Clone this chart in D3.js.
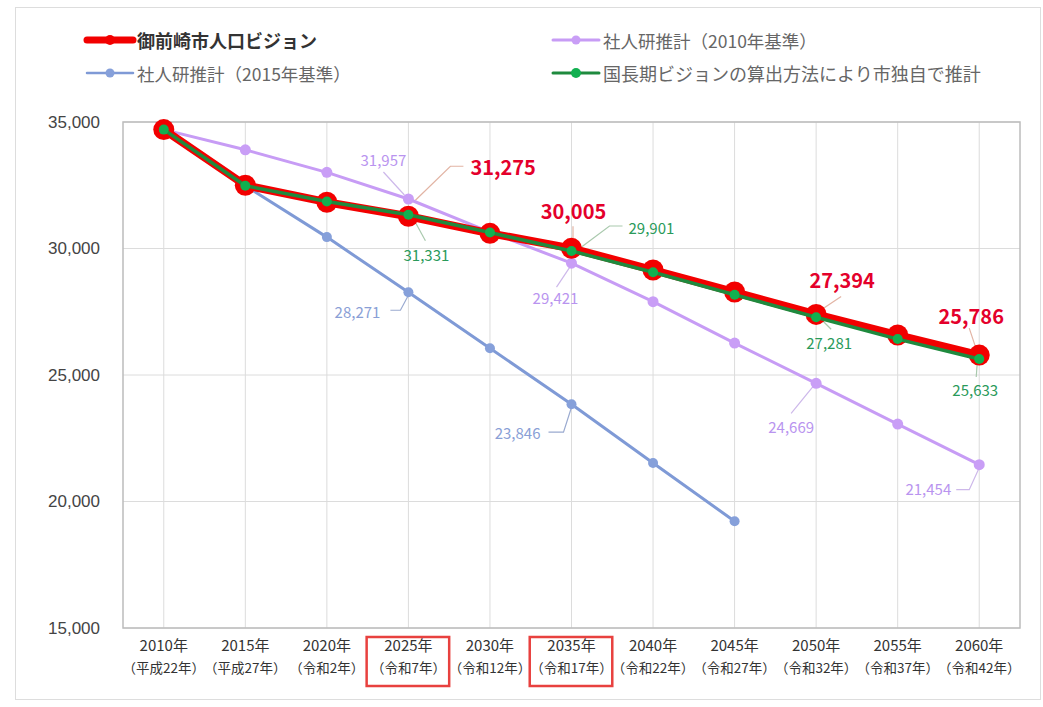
<!DOCTYPE html>
<html>
<head>
<meta charset="utf-8">
<script src="https://cdn.jsdelivr.net/npm/d3@7"></script>
<style>
  html, body { margin: 0; padding: 0; background: #fff; }
  svg { display: block; }
</style>
</head>
<body>
<svg id="chart" width="1043" height="707"></svg>
<script>
// ---- data ----
const years = ["2010", "2015", "2020", "2025", "2030", "2035", "2040", "2045", "2050", "2055", "2060"];
const yearLabels = ["2010年", "2015年", "2020年", "2025年", "2030年", "2035年", "2040年", "2045年", "2050年", "2055年", "2060年"];
const eraLabels = ["（平成22年）", "（平成27年）", "（令和2年）", "（令和7年）", "（令和12年）", "（令和17年）", "（令和22年）", "（令和27年）", "（令和32年）", "（令和37年）", "（令和42年）"];
const highlightedYears = ["2025", "2035"];

const yTicks = [15000, 20000, 25000, 30000, 35000];

// 御前崎市人口ビジョン
const visionValues = [34700, 32500, 31830, 31275, 30600, 30005, 29150, 28280, 27394, 26580, 25786];
// 国長期ビジョンの算出方法により市独自で推計
const cityEstimateValues = [34700, 32480, 31860, 31331, 30630, 29901, 29060, 28170, 27281, 26420, 25633];
// 社人研推計（2010年基準）
const ipss2010Values = [34700, 33900, 33010, 31957, 30650, 29421, 27900, 26260, 24669, 23060, 21454];
// 社人研推計（2015年基準）
const ipss2015Values = [null, 32480, 30450, 28271, 26060, 23846, 21520, 19220, null, null, null];

const seriesNames = ["御前崎市人口ビジョン", "社人研推計（2010年基準）", "社人研推計（2015年基準）", "国長期ビジョンの算出方法により市独自で推計"];

// value labels shown on the chart: [series key, year]
const labelledPoints = [
  ["vision", "2025"], ["vision", "2035"], ["vision", "2050"], ["vision", "2060"],
  ["city", "2025"], ["city", "2035"], ["city", "2050"], ["city", "2060"],
  ["ipss2010", "2025"], ["ipss2010", "2035"], ["ipss2010", "2050"], ["ipss2010", "2060"],
  ["ipss2015", "2025"], ["ipss2015", "2035"]
];

// ---- styling & layout ----
const style = {
  vision:   { line: "#f20000", width: 8,   marker: "#f20000", r: 10.5, label: "#e4002b", leader: "#e2b4a4", size: 20, weight: 700 },
  city:     { line: "#1f8a3e", width: 3.5, marker: "#12b050", r: 5,    label: "#2a9a5a", leader: "#a9c9ad", size: 15, weight: 400 },
  ipss2010: { line: "#c79cf5", width: 3,   marker: "#c99ef6", r: 5.5,  label: "#b994ef", leader: "#cdb8ea", size: 15, weight: 400 },
  ipss2015: { line: "#7f9ad6", width: 3,   marker: "#86a0da", r: 5,    label: "#8a9fd6", leader: "#9aaad0", size: 15, weight: 400 }
};

// label placement relative to its point: text anchor position, alignment and leader polyline
const labelLayout = {
  "vision-2025":   { dx: 62,  dy: -50, anchor: "start",  leader: [[7, -16], [42, -50], [55, -50]] },
  "vision-2035":   { dx: 2,   dy: -38, anchor: "middle", leader: [[1.5, -22], [1.5, -10]] },
  "vision-2050":   { dx: 26,  dy: -35, anchor: "middle", leader: [[4, -4], [25, -18]] },
  "vision-2060":   { dx: -8,  dy: -40, anchor: "middle", leader: [[-10, -27], [-3, -6]] },
  "city-2025":     { dx: 18,  dy: 40,  anchor: "middle", leader: [[5, 4], [17, 26]] },
  "city-2035":     { dx: 57,  dy: -24, anchor: "start",  leader: [[10, -4], [38, -25], [51, -25]] },
  "city-2050":     { dx: 13,  dy: 25,  anchor: "middle", leader: [[7, 4], [15, 12]] },
  "city-2060":     { dx: -4,  dy: 31,  anchor: "middle", leader: [[-2, 4], [-3, 18]] },
  "ipss2010-2025": { dx: -25, dy: -39, anchor: "middle", leader: [[-25, -27], [-4, -4]] },
  "ipss2010-2035": { dx: -16, dy: 34,  anchor: "middle", leader: [[-1, 3], [-15, 24]] },
  "ipss2010-2050": { dx: -25, dy: 43,  anchor: "middle", leader: [[-25, 30], [-3, 3]] },
  "ipss2010-2060": { dx: -28, dy: 24,  anchor: "end",    leader: [[-23, 25], [-10, 25], [0, 3]] },
  "ipss2015-2025": { dx: -28, dy: 19,  anchor: "end",    leader: [[-18, 18], [-8, 18], [0, 3]] },
  "ipss2015-2035": { dx: -31, dy: 28,  anchor: "end",    leader: [[-23, 28], [-8, 28], [0, 3]] }
};

const plot = { left: 123, right: 1020, top: 122, bottom: 628 };
const cjk = "'Noto Sans CJK JP', 'Noto Sans', sans-serif";

const svg = d3.select("#chart");

// outer frame
svg.append("rect")
  .attr("x", 15.5).attr("y", 7.5).attr("width", 1025).attr("height", 692)
  .attr("fill", "#fff").attr("stroke", "#dddddd").attr("stroke-width", 1);

const x = d3.scaleBand().domain(years).range([plot.left, plot.right]).padding(0);
const cx = d => x(d) + x.bandwidth() / 2;
const y = d3.scaleLinear().domain([15000, 35000]).range([plot.bottom, plot.top]);

// grid lines
const grid = svg.append("g");
grid.selectAll("line.h").data(yTicks).join("line")
  .attr("x1", plot.left).attr("x2", plot.right)
  .attr("y1", d => y(d)).attr("y2", d => y(d))
  .attr("stroke", "#dcdcdc").attr("stroke-width", 1);
grid.selectAll("line.v").data(years).join("line")
  .attr("x1", d => cx(d)).attr("x2", d => cx(d))
  .attr("y1", plot.top).attr("y2", plot.bottom)
  .attr("stroke", "#dcdcdc").attr("stroke-width", 1);

// plot border
svg.append("rect")
  .attr("x", plot.left).attr("y", plot.top)
  .attr("width", plot.right - plot.left).attr("height", plot.bottom - plot.top)
  .attr("fill", "none").attr("stroke", "#bcbcbc").attr("stroke-width", 1.5);

// y axis labels
const yAxis = d3.axisLeft(y).tickValues(yTicks).tickFormat(d3.format(",")).tickSize(0).tickPadding(0);
const yg = svg.append("g").attr("transform", `translate(100,0)`).call(yAxis);
yg.select(".domain").remove();
yg.selectAll("text")
  .attr("font-family", "'Liberation Sans', Arial, sans-serif")
  .attr("font-size", 17).attr("fill", "#444");

// x axis labels (two lines)
const xAxis = d3.axisBottom(x).tickSize(0).tickFormat(() => "");
const xg = svg.append("g").attr("transform", `translate(0,${plot.bottom})`).call(xAxis);
xg.select(".domain").remove();
xg.selectAll(".tick text").remove();
xg.selectAll(".tick").append("text")
  .attr("y", 23).attr("text-anchor", "middle")
  .attr("font-family", cjk).attr("font-size", 15).attr("fill", "#333")
  .text((d, i) => yearLabels[i]);
xg.selectAll(".tick").append("text")
  .attr("y", 45).attr("text-anchor", "middle")
  .attr("font-family", cjk).attr("font-size", 13.5).attr("fill", "#333")
  .text((d, i) => eraLabels[i]);

// highlight boxes around selected years
svg.selectAll("rect.hl").data(highlightedYears).join("rect")
  .attr("x", d => x(d) - 1).attr("y", plot.bottom + 9)
  .attr("width", x.bandwidth() + 1).attr("height", 49)
  .attr("fill", "none").attr("stroke", "#e8413f").attr("stroke-width", 2.5);

// series
const seriesData = {
  vision: visionValues,
  city: cityEstimateValues,
  ipss2010: ipss2010Values,
  ipss2015: ipss2015Values
};
const drawOrder = ["ipss2015", "ipss2010", "vision", "city"];

const line = d3.line()
  .defined(d => d.v != null)
  .x(d => cx(d.year)).y(d => y(d.v));

// leader lines sit beneath the series
const leaders = svg.append("g");
const seriesG = svg.append("g");
const labelsG = svg.append("g");

drawOrder.forEach(key => {
  const s = style[key];
  const pts = years.map((yr, i) => ({ year: yr, v: seriesData[key][i] }));
  seriesG.append("path").datum(pts)
    .attr("d", line).attr("fill", "none")
    .attr("stroke", s.line).attr("stroke-width", s.width)
    .attr("stroke-linejoin", "round").attr("stroke-linecap", "round");
  seriesG.selectAll(null).data(pts.filter(p => p.v != null)).join("circle")
    .attr("cx", p => cx(p.year)).attr("cy", p => y(p.v))
    .attr("r", s.r).attr("fill", s.marker);
});

const fmt = d3.format(",");
labelledPoints.forEach(([key, yr]) => {
  const s = style[key];
  const v = seriesData[key][years.indexOf(yr)];
  const px = cx(yr), py = y(v);
  const L = labelLayout[`${key}-${yr}`];
  leaders.append("path")
    .attr("d", d3.line()(L.leader.map(([a, b]) => [px + a, py + b])))
    .attr("fill", "none").attr("stroke", s.leader).attr("stroke-width", 1.2);
  labelsG.append("text")
    .attr("x", px + L.dx).attr("y", py + L.dy)
    .attr("text-anchor", L.anchor).attr("dominant-baseline", "central")
    .attr("font-family", cjk).attr("font-size", s.size).attr("font-weight", s.weight)
    .attr("fill", s.label)
    .text(fmt(v));
});

// legend
const legendItems = [
  { key: "vision",   name: seriesNames[0], x: 87,  y: 40, lw: 7, mr: 5, font: 18, weight: 700, color: "#333" },
  { key: "ipss2010", name: seriesNames[1], x: 553, y: 40, lw: 3, mr: 4.5, font: 17.5, weight: 400, color: "#666" },
  { key: "ipss2015", name: seriesNames[2], x: 87,  y: 73, lw: 2.5, mr: 4.5, font: 17.5, weight: 400, color: "#666" },
  { key: "city",     name: seriesNames[3], x: 553, y: 73, lw: 3, mr: 5, font: 18, weight: 400, color: "#666" }
];
const lg = svg.append("g");
legendItems.forEach(it => {
  const s = style[it.key];
  const g = lg.append("g").attr("transform", `translate(${it.x},${it.y})`);
  g.append("line").attr("x1", 0).attr("x2", 46).attr("y1", 0).attr("y2", 0)
    .attr("stroke", s.line).attr("stroke-width", it.lw).attr("stroke-linecap", "round");
  g.append("circle").attr("cx", 23).attr("cy", 0).attr("r", it.mr).attr("fill", s.marker);
  g.append("text").attr("x", 50).attr("y", 0)
    .attr("dominant-baseline", "central")
    .attr("font-family", cjk).attr("font-size", it.font).attr("font-weight", it.weight)
    .attr("fill", it.color).text(it.name);
});
</script>
</body>
</html>
